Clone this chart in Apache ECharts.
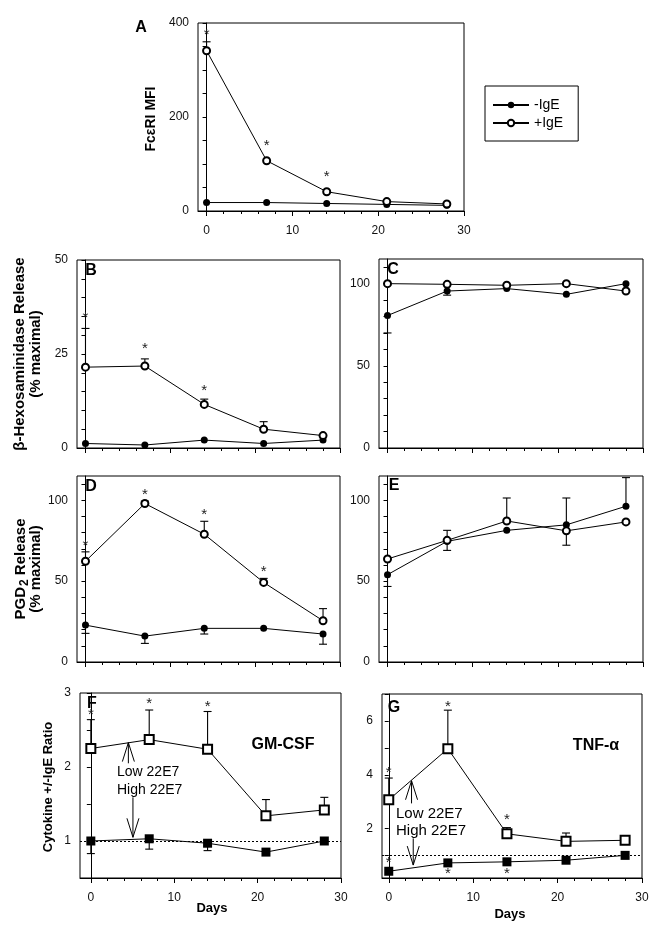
<!DOCTYPE html>
<html><head><meta charset="utf-8">
<script src="https://cdn.jsdelivr.net/npm/echarts@6/dist/echarts.min.js"></script>
<style>html,body{margin:0;padding:0;background:#fff}#c{width:661px;height:937px}</style>
</head><body><div id="c"></div>
<script>
// ---------- data ----------
const days = [0, 7, 14, 21, 28];
const xTickLabels = [0, 10, 20, 30];

// A: FceRI MFI
const aMinus = [18, 18, 16, 14, 12];
const aPlus = [341, 107, 41, 20, 15];
const aPlusErr = [360, null, null, null, null];
const aStars = [[0, 381], [7, 145], [14, 80]];
const aYLabels = [0, 200, 400];

// B: beta-hexosaminidase release (panel 1)
const bMinus = [1.2, 0.8, 2.1, 1.2, 2.1];
const bPlus = [21.5, 21.8, 11.6, 5.0, 3.3];
const bPlusErr = [31.8, 23.7, 13.0, 7.0, null];
const bStars = [[0, 35.4], [7, 27.1], [14, 15.9]];
const bYLabels = [0, 25, 50];

// C: beta-hexosaminidase release (panel 2)
const cMinus = [80.6, 95.5, 97, 93.5, 100];
const cMinusErr = [70, 93, null, null, null];
const cPlus = [100, 99.6, 99, 100, 95.5];
const cYLabels = [0, 50, 100];

// D: PGD2 release (panel 1)
const dMinus = [22.8, 16, 20.8, 20.8, 17.3];
const dMinusErr = [17.7, 11.5, 17.3, null, 11];
const dPlus = [62.3, 98, 79, 49.2, 25.5];
const dPlusErr = [68.1, 99.5, 87, 51.7, 33];
const dStars = [[0, 73.6], [7, 105], [14, 92.8], [21, 57.4]];
const dYLabels = [0, 50, 100];

// E: PGD2 release (panel 2)
const eMinus = [54, 74.6, 81.4, 84.8, 96.3];
const eMinusErr = [46.7, 69, null, 101.4, 114];
const ePlus = [63.7, 75.2, 87.2, 81.1, 86.6];
const ePlusErr = [null, 81.4, 101.4, 72.2, null];
const eYLabels = [0, 50, 100];

// F: GM-CSF ratio
const fMinus = [1.0, 1.03, 0.97, 0.85, 1.0];
const fMinusErr = [0.83, 0.89, 0.87, null, null];
const fPlus = [2.25, 2.37, 2.24, 1.34, 1.42];
const fPlusErr = [2.64, 2.77, 2.75, 1.56, 1.59];
const fStars = [[0, 2.74], [7, 2.89], [14, 2.86]];
const fArrows = [[4.5, 2.05, 2.33], [5.05, 1.59, 1.05]];
const fYLabels = [1, 2, 3];

// G: TNF-alpha ratio
const gMinus = [0.42, 0.73, 0.77, 0.83, 1.01];
const gPlus = [3.07, 4.97, 1.81, 1.53, 1.57];
const gPlusErr = [3.88, 6.4, 2.04, 1.84, 1.69];
const gStars = [[0, 4.19], [7, 6.63], [14, 2.43], [0, 0.83], [7, 0.44], [14, 0.44]];
const gArrows = [[2.7, 2.94, 3.78], [2.9, 1.64, 0.65]];
const gYLabels = [2, 4, 6];

// ---------- layout ----------
const FF = 'Liberation Sans, Arial, Helvetica, sans-serif';
function range(a, b, s) { const r = []; for (let v = a; v <= b + 1e-9; v += s) r.push(+v.toFixed(4)); return r; }

const panels = [
  {grid:{left:198,top:23,width:266,height:188}, xMin:-1, yMin:0, yMax:400, yLabels:aYLabels, yTicks:range(0,400,50), xLabels:true, sq:false,
   minus:aMinus, plus:aPlus, minusErr:null, plusErr:aPlusErr, stars:aStars, names:['-IgE','+IgE']},
  {grid:{left:77,top:260,width:263,height:188}, xMin:-1, yMin:0, yMax:50, yLabels:bYLabels, yTicks:range(0,50,5), xLabels:false, sq:false,
   minus:bMinus, plus:bPlus, minusErr:null, plusErr:bPlusErr, stars:bStars},
  {grid:{left:379,top:259,width:264,height:189}, xMin:-1, yMin:0, yMax:115, yLabels:cYLabels, yTicks:range(0,110,10), xLabels:false, sq:false,
   minus:cMinus, plus:cPlus, minusErr:cMinusErr, plusErr:null, stars:[]},
  {grid:{left:77,top:476,width:263,height:186}, xMin:-1, yMin:0, yMax:115, yLabels:dYLabels, yTicks:range(0,110,10), xLabels:false, sq:false,
   minus:dMinus, plus:dPlus, minusErr:dMinusErr, plusErr:dPlusErr, stars:dStars},
  {grid:{left:379,top:476,width:264,height:186}, xMin:-1, yMin:0, yMax:115, yLabels:eYLabels, yTicks:range(0,110,10), xLabels:false, sq:false,
   minus:eMinus, plus:ePlus, minusErr:eMinusErr, plusErr:ePlusErr, stars:[]},
  {grid:{left:80,top:693,width:261,height:185}, xMin:-1.3, yMin:0.5, yMax:3, yLabels:fYLabels, yTicks:range(0.5,3,0.5), xLabels:true, sq:true,
   minus:fMinus, plus:fPlus, minusErr:fMinusErr, plusErr:fPlusErr, stars:fStars, arrows:fArrows, refLine:true},
  {grid:{left:382,top:694,width:260,height:184}, xMin:-0.8, yMin:0.17, yMax:7, yLabels:gYLabels, yTicks:range(1,7,1), xLabels:true, sq:true,
   minus:gMinus, plus:gPlus, minusErr:null, plusErr:gPlusErr, stars:gStars, arrows:gArrows, refLine:true}
];

function errRender(params, api) {
  const x = api.value(0), y = api.value(1), e = api.value(2);
  const p0 = api.coord([x, y]), p1 = api.coord([x, e]);
  const st = {stroke:'#000', lineWidth:1.1};
  return {type:'group', children:[
    {type:'line', shape:{x1:p0[0], y1:p0[1], x2:p1[0], y2:p1[1]}, style:st},
    {type:'line', shape:{x1:p1[0]-4, y1:p1[1], x2:p1[0]+4, y2:p1[1]}, style:st}
  ]};
}
function starRender(params, api) {
  const p = api.coord([api.value(0), api.value(1)]);
  return {type:'text', x:p[0], y:p[1] + 3, style:{text:'*', fill:'#222', font:'15px ' + FF, align:'center', verticalAlign:'middle'}};
}
function arrowRender(params, api) {
  const x = api.value(0);
  const a = api.coord([x, api.value(1)]), b = api.coord([x, api.value(2)]);
  const dir = b[1] > a[1] ? 1 : -1;
  const st = {stroke:'#000', lineWidth:1};
  return {type:'group', children:[
    {type:'line', shape:{x1:a[0], y1:a[1], x2:b[0], y2:b[1]}, style:st},
    {type:'line', shape:{x1:b[0]-6, y1:b[1]-dir*19, x2:b[0], y2:b[1]}, style:st},
    {type:'line', shape:{x1:b[0]+6, y1:b[1]-dir*19, x2:b[0], y2:b[1]}, style:st}
  ]};
}

const grid = [], xAxis = [], yAxis = [], series = [];
panels.forEach((p, i) => {
  grid.push(Object.assign({show:true, borderColor:'#000', borderWidth:1, containLabel:false}, p.grid));
  xAxis.push({type:'value', gridIndex:i, position:'bottom', min:p.xMin, max:30,
    axisLine:{lineStyle:{color:'#000', width:1}},
    axisTick:{customValues:[0,10,20,30], length:5, lineStyle:{color:'#000'}},
    axisLabel:{show:p.xLabels, customValues:xTickLabels, margin:14, color:'#111', fontSize:12, fontFamily:FF},
    splitLine:{show:false}});
  xAxis.push({type:'value', gridIndex:i, position:'bottom', min:p.xMin, max:30,
    axisLine:{show:false},
    axisTick:{customValues:range(0,30,2), length:3, lineStyle:{color:'#000'}},
    axisLabel:{show:false}, splitLine:{show:false}});
  yAxis.push({type:'value', gridIndex:i, position:'left', min:p.yMin, max:p.yMax,
    axisLine:{lineStyle:{color:'#000', width:1}},
    axisTick:{customValues:p.yTicks, length:4, lineStyle:{color:'#000'}},
    axisLabel:{customValues:p.yLabels, margin:9, color:'#111', fontSize:12, fontFamily:FF},
    splitLine:{show:false}});
  const xi = 2 * i, yi = i;
  const nm = p.names || ['p' + i + ' -IgE', 'p' + i + ' +IgE'];
  const size = p.sq ? 9 : 7;
  const minusSeries = {type:'line', name:nm[0], xAxisIndex:xi, yAxisIndex:yi,
    data:days.map((d, k) => [d, p.minus[k]]),
    symbol:p.sq ? 'rect' : 'circle', symbolSize:size,
    lineStyle:{color:'#000', width:1}, itemStyle:{color:'#000'}, z:4, animation:false};
  if (p.refLine) {
    minusSeries.markLine = {silent:true, symbol:'none', label:{show:false},
      lineStyle:{type:[2,2], color:'#000', width:1}, data:[{yAxis:1}], animation:false};
  }
  series.push(minusSeries);
  series.push({type:'line', name:nm[1], xAxisIndex:xi, yAxisIndex:yi,
    data:days.map((d, k) => [d, p.plus[k]]),
    symbol:p.sq ? 'emptyRect' : 'emptyCircle', symbolSize:size,
    lineStyle:{color:'#000', width:1}, itemStyle:{color:'#000', borderWidth:1.2}, z:5, animation:false});
  [[p.minus, p.minusErr], [p.plus, p.plusErr]].forEach(([vals, errs]) => {
    if (!errs) return;
    const data = days.map((d, k) => errs[k] == null ? null : [d, vals[k], errs[k]]).filter(Boolean);
    series.push({type:'custom', xAxisIndex:xi, yAxisIndex:yi, renderItem:errRender, data:data, z:2, silent:true, animation:false});
  });
  if (p.stars && p.stars.length) {
    series.push({type:'custom', xAxisIndex:xi, yAxisIndex:yi, renderItem:starRender, data:p.stars, z:6, silent:true, clip:false, animation:false});
  }
  if (p.arrows) {
    series.push({type:'custom', xAxisIndex:xi, yAxisIndex:yi, renderItem:arrowRender, data:p.arrows, z:6, silent:true, animation:false});
  }
});

function vtext(x, y, text, size, rich) {
  const o = {type:'text', x:x, y:y, rotation:Math.PI/2,
    style:{text:text, fill:'#000', align:'center', verticalAlign:'middle', fontSize:size, fontWeight:'bold', fontFamily:FF}};
  if (rich) o.style.rich = rich;
  return o;
}
function htext(x, y, text, size, bold, align) {
  return {type:'text', x:x, y:y, style:{text:text, fill:'#000', align:align || 'center', verticalAlign:'middle',
    fontSize:size, fontWeight:bold ? 'bold' : 'normal', fontFamily:FF}};
}

const graphic = [
  htext(141, 28, 'A', 16, true), htext(91, 271, 'B', 16, true), htext(393, 270, 'C', 16, true),
  htext(91, 487, 'D', 16, true), htext(394, 486, 'E', 16, true), htext(92, 704, 'F', 16, true), htext(394, 708, 'G', 16, true),
  vtext(151, 119, 'FcεRI MFI', 14),
  vtext(20, 354, 'β-Hexosaminidase Release', 15),
  vtext(36, 354, '(% maximal)', 15),
  vtext(21, 569, '{a|PGD}{s|2}{a| Release}', 15, {
    a:{fontSize:15, fontWeight:'bold', fontFamily:FF, fill:'#000'},
    s:{fontSize:12, fontWeight:'bold', fontFamily:FF, fill:'#000', padding:[7,0,0,1]}}),
  vtext(36, 569, '(% maximal)', 15),
  vtext(48, 787, 'Cytokine +/-IgE Ratio', 13),
  htext(212, 908, 'Days', 13, true), htext(510, 914, 'Days', 13, true),
  htext(283, 745, 'GM-CSF', 16, true), htext(596, 746, 'TNF-α', 16, true),
  htext(117, 772, 'Low 22E7', 14, false, 'left'), htext(117, 790, 'High 22E7', 14, false, 'left'),
  htext(396, 814, 'Low 22E7', 15, false, 'left'), htext(396, 831, 'High 22E7', 15, false, 'left')
];

const chart = echarts.init(document.getElementById('c'), null, {renderer:'canvas'});
chart.setOption({
  animation:false,
  backgroundColor:'#fff',
  legend:{data:['-IgE', '+IgE'], left:485, top:86, orient:'vertical', borderColor:'#000', borderWidth:1,
    padding:[12, 15, 11, 7], itemWidth:36, itemHeight:8, itemGap:4,
    textStyle:{fontSize:14, color:'#000', fontFamily:FF}},
  grid:grid, xAxis:xAxis, yAxis:yAxis, series:series, graphic:graphic
});
</script></body></html>
